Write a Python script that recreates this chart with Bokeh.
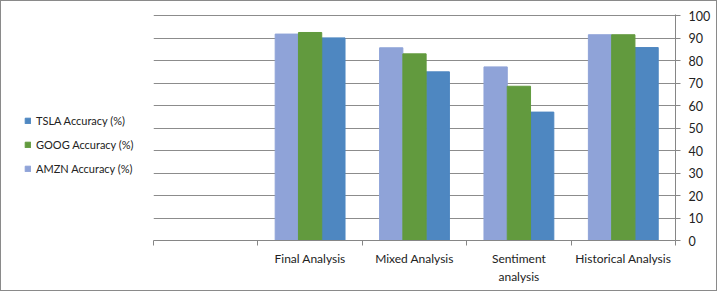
import numpy as np
from bokeh.plotting import figure
from bokeh.layouts import row
from bokeh.models import (Range1d, FixedTicker, LinearAxis, Legend, LegendItem, Grid)
from bokeh.embed import file_html
from bokeh.resources import INLINE

categories = ["", "Final Analysis", "Mixed Analysis", "Sentiment\nanalysis", "Historical Analysis"]
amzn = [None, 91.8, 85.7, 77.2, 91.5]
goog = [None, 92.5, 83.0, 68.6, 91.5]
tsla = [None, 90.1, 75.0, 57.1, 85.8]
series_names = ["AMZN Accuracy (%)", "GOOG Accuracy (%)", "TSLA Accuracy (%)"]
series_colors = ["#8FA3D8", "#629A3E", "#4E87C1"]
y_ticks = list(range(0, 101, 10))

FONT = "Lato"

p = figure(width=563, height=289, output_backend="svg", toolbar_location=None,
           x_range=Range1d(0, len(categories)), y_range=Range1d(0, 100.5),
           y_axis_location=None, x_axis_location=None,
           min_border_left=0, min_border_right=41, min_border_top=13, min_border_bottom=50)
p.outline_line_color = None
p.background_fill_color = "white"
p.border_fill_color = "white"

idx = np.arange(len(categories)) + 0.5
bw = 0.223
series = [amzn, goog, tsla]
for k, (vals, color) in enumerate(zip(series, series_colors)):
    xs = [x + (k - 1) * bw for x, v in zip(idx, vals) if v is not None]
    ys = [v for v in vals if v is not None]
    p.vbar(x=xs, top=ys, width=bw, bottom=0, fill_color=color, line_color=color)

yax = LinearAxis(ticker=FixedTicker(ticks=y_ticks))
yax.axis_line_color = "#868686"
yax.major_tick_line_color = "#868686"
yax.major_tick_in = 0
yax.major_tick_out = 5
yax.minor_tick_line_color = None
yax.major_label_text_font = FONT
yax.major_label_text_font_size = "12.5px"
yax.major_label_text_color = "#222222"
yax.major_label_standoff = 8
p.add_layout(yax, "right")

xax = LinearAxis(ticker=FixedTicker(ticks=list(idx), minor_ticks=list(range(len(categories) + 1))))
xax.major_label_overrides = {float(x): c for x, c in zip(idx, categories)}
xax.axis_line_color = "#868686"
xax.major_tick_line_color = None
xax.minor_tick_line_color = "#868686"
xax.minor_tick_in = 0
xax.minor_tick_out = 5
xax.major_label_text_font = FONT
xax.major_label_text_font_size = "12px"
xax.major_label_text_color = "#222222"
xax.major_label_standoff = 4
p.add_layout(xax, "below")

p.xgrid.visible = False
p.ygrid.visible = False
g = Grid(dimension=1, ticker=yax.ticker, grid_line_color="#8c8c8c", grid_line_width=1)
p.add_layout(g)
p.renderers.insert(0, p.renderers.pop())

# legend figure (proxy renderers hidden; legend shows their swatches)
lf = figure(width=152, height=289, output_backend="svg", toolbar_location=None,
            x_range=Range1d(0, len(categories)), y_range=Range1d(0, 100.5),
            x_axis_location=None, y_axis_location=None, min_border=0)
lf.outline_line_color = None
lf.xgrid.visible = False
lf.ygrid.visible = False
lrs = []
for vals, color in zip(series, series_colors):
    xs = [x for x, v in zip(idx, vals) if v is not None]
    ys = [v for v in vals if v is not None]
    r = lf.vbar(x=xs, top=ys, width=bw, fill_color=color, line_color=color)
    r.visible = False
    lrs.append(r)
items = [LegendItem(label=series_names[i], renderers=[lrs[i]]) for i in [2, 1, 0]]
legend = Legend(items=items, location=(23, 62), orientation="vertical")
legend.glyph_width = 7
legend.glyph_height = 7
legend.label_height = 20
legend.spacing = 4
legend.padding = 0
legend.margin = 0
legend.label_standoff = 5
legend.border_line_color = None
legend.background_fill_alpha = 0
legend.inactive_fill_alpha = 0
legend.label_text_font = FONT
legend.label_text_font_size = "11px"
legend.label_text_color = "#222222"
legend.click_policy = "none"
lf.add_layout(legend)

layout = row(lf, p, spacing=0)
layout.styles = {"border": "1px solid #8a8a8a"}

open("out.html", "w").write(file_html(layout, INLINE))
